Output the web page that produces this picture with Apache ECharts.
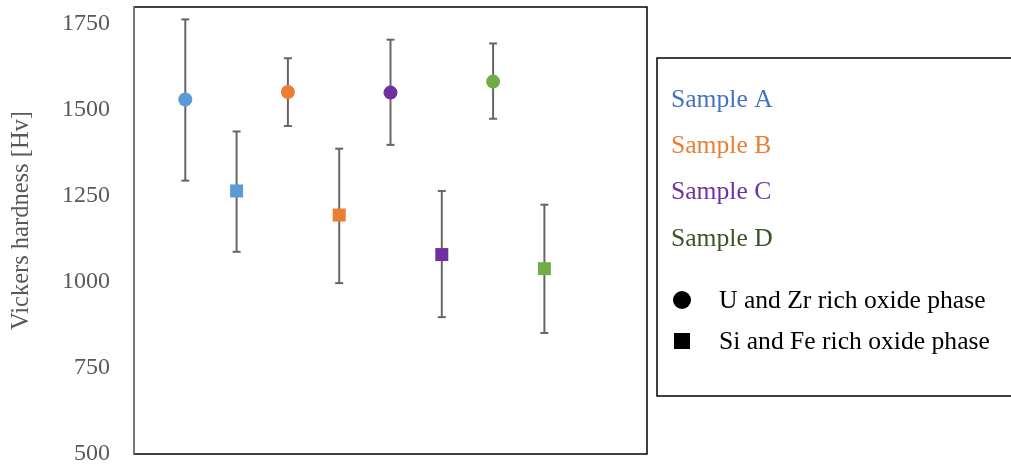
<!DOCTYPE html>
<html>
<head>
<meta charset="utf-8">
<script src="https://cdn.jsdelivr.net/npm/echarts@6/dist/echarts.min.js"></script>
<style>html,body{margin:0;padding:0;background:#fff;}#c{width:1011px;height:468px;}</style>
</head>
<body>
<div id="c"></div>
<script>
// ---- data ----
const samples = ['Sample A', 'Sample B', 'Sample C', 'Sample D'];
const sampleColors = ['#5B9BD5', '#ED7D31', '#7030A0', '#70AD47'];
const sampleTextColors = ['#4472C4', '#ED7D31', '#7030A0', '#375623'];
const phaseNames = ['U and Zr rich oxide phase', 'Si and Fe rich oxide phase'];
// x slot of each sample's point (U&Zr then Si&Fe alternate)
const uzrX = [1, 3, 5, 7];
const sifeX = [2, 4, 6, 8];
const uzrMean = [1531, 1553, 1551, 1583];
const uzrLow  = [1295, 1454, 1399, 1475];
const uzrHigh = [1764, 1651, 1705, 1694];
const sifeMean = [1265, 1195, 1080, 1039];
const sifeLow  = [1088, 997, 898, 852];
const sifeHigh = [1438, 1388, 1265, 1225];
const yTicks = [500, 750, 1000, 1250, 1500, 1750];

const FONT = '"Liberation Serif", "Times New Roman", serif';

function pts(xs, means) {
  return xs.map((x, i) => ({ value: [x, means[i]], itemStyle: { color: sampleColors[i], opacity: 1 } }));
}
function errs(xs, lows, highs) {
  return xs.map((x, i) => [x, lows[i], highs[i]]);
}

function errRender(params, api) {
  const x = api.value(0);
  const lo = api.coord([x, api.value(1)]);
  const hi = api.coord([x, api.value(2)]);
  const cap = 4;
  const style = { stroke: '#666666', lineWidth: 2 };
  return {
    type: 'group',
    children: [
      { type: 'line', shape: { x1: lo[0], y1: lo[1], x2: hi[0], y2: hi[1] }, style },
      { type: 'line', shape: { x1: lo[0] - cap, y1: lo[1], x2: lo[0] + cap, y2: lo[1] }, style },
      { type: 'line', shape: { x1: hi[0] - cap, y1: hi[1], x2: hi[0] + cap, y2: hi[1] }, style }
    ]
  };
}

const chart = echarts.init(document.getElementById('c'), null, { renderer: 'canvas' });

const legendLeft = 657, legendTop = 58;
const graphics = [
  { type: 'rect', shape: { x: legendLeft, y: legendTop, width: 400, height: 338 },
    style: { fill: '#fff', stroke: '#000', lineWidth: 1.5 }, z: 1 }
];
samples.forEach((s, i) => {
  graphics.push({ type: 'text', x: 671, y: 100 + i * 46.3, z: 2,
    style: { text: s, fill: sampleTextColors[i], font: '25.6px ' + FONT, textVerticalAlign: 'middle' } });
});
graphics.push({ type: 'circle', shape: { cx: 682, cy: 300, r: 9 }, style: { fill: '#000' }, z: 2 });
graphics.push({ type: 'rect', shape: { x: 674, y: 333, width: 16, height: 16 }, style: { fill: '#000' }, z: 2 });
phaseNames.forEach((p, i) => {
  graphics.push({ type: 'text', x: 719, y: 301.5 + i * 41, z: 2,
    style: { text: p, fill: '#000', font: '25.6px ' + FONT, textVerticalAlign: 'middle' } });
});

chart.setOption({
  animation: false,
  backgroundColor: '#fff',
  grid: { left: 134, right: 364, top: 7, bottom: 14, show: true, borderColor: '#000', borderWidth: 1.5,
    backgroundColor: 'transparent', containLabel: false, outerBoundsMode: 'none' },
  xAxis: { type: 'value', min: 0, max: 10, show: false },
  yAxis: {
    type: 'value', min: 500, max: 1800, interval: 250,
    name: 'Vickers hardness [Hv]', nameLocation: 'middle', nameRotate: 90, nameGap: 100,
    nameTextStyle: { color: '#595959', fontSize: 24.5, fontFamily: FONT, padding: [0, 0, 0, 20] },
    axisLine: { show: true, lineStyle: { color: '#8c8c8c', width: 1.5 } },
    axisTick: { show: false },
    splitLine: { show: false },
    axisLabel: { color: '#595959', fontSize: 24, fontFamily: FONT, margin: 24,
      formatter: v => (yTicks.indexOf(v) >= 0 ? String(v) : '') }
  },
  graphic: graphics,
  series: [
    { type: 'custom', name: 'errU', renderItem: errRender, data: errs(uzrX, uzrLow, uzrHigh), z: 2, encode: { x: 0, y: [1, 2] } },
    { type: 'custom', name: 'errS', renderItem: errRender, data: errs(sifeX, sifeLow, sifeHigh), z: 2, encode: { x: 0, y: [1, 2] } },
    { type: 'scatter', name: phaseNames[0], symbol: 'circle', symbolSize: 14, data: pts(uzrX, uzrMean), z: 3 },
    { type: 'scatter', name: phaseNames[1], symbol: 'rect', symbolSize: 13, data: pts(sifeX, sifeMean), z: 3 }
  ]
});
</script>
</body>
</html>
